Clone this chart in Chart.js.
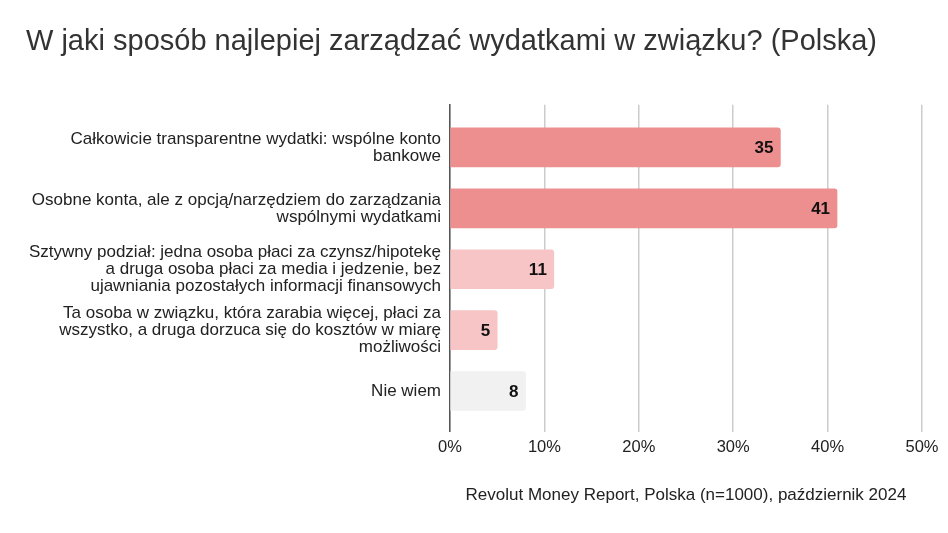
<!DOCTYPE html>
<html>
<head>
<meta charset="utf-8">
<script src="https://cdn.jsdelivr.net/npm/chart.js@4/dist/chart.umd.min.js"></script>
<style>
html,body{margin:0;padding:0;background:#fff;}
#wrap{width:948px;height:533px;}
</style>
</head>
<body>
<div id="wrap"><canvas id="c" width="948" height="533"></canvas></div>
<script>
const titleText = "W jaki sposób najlepiej zarządzać wydatkami w związku? (Polska)";
const footerText = "Revolut Money Report, Polska (n=1000), październik 2024";
const categories = [
  ["Całkowicie transparentne wydatki: wspólne konto", "bankowe"],
  ["Osobne konta, ale z opcją/narzędziem do zarządzania", "wspólnymi wydatkami"],
  ["Sztywny podział: jedna osoba płaci za czynsz/hipotekę", "a druga osoba płaci za media i jedzenie, bez", "ujawniania pozostałych informacji finansowych"],
  ["Ta osoba w związku, która zarabia więcej, płaci za", "wszystko, a druga dorzuca się do kosztów w miarę", "możliwości"],
  ["Nie wiem"]
];
const values = [35, 41, 11, 5, 8];
const barColors = ["#ee8f8f", "#ee8f8f", "#f7c5c5", "#f7c5c5", "#f1f1f1"];
const xTicks = [0, 10, 20, 30, 40, 50];

const FONT = "'Liberation Sans', Arial, Helvetica, sans-serif";

const valueLabels = {
  id: 'valueLabels',
  afterDatasetsDraw(chart) {
    const ctx = chart.ctx;
    const meta = chart.getDatasetMeta(0);
    ctx.save();
    ctx.font = "bold 17px " + FONT;
    ctx.fillStyle = "#111";
    ctx.textAlign = "right";
    ctx.textBaseline = "middle";
    meta.data.forEach((el, i) => {
      ctx.fillText(String(values[i]), el.x - 7, el.y + 1);
    });
    ctx.restore();
  }
};

new Chart(document.getElementById('c'), {
  type: 'bar',
  data: {
    datasets: [{
      data: values.map((v, i) => ({ x: v, y: i })),
      backgroundColor: barColors,
      borderColor: barColors,
      borderWidth: 0,
      borderRadius: 3,
      borderSkipped: 'start',
      barThickness: 39
    }]
  },
  options: {
    indexAxis: 'y',
    responsive: false,
    animation: false,
    devicePixelRatio: 1,
    layout: { padding: { left: 26, right: 26, top: 10, bottom: 0 } },
    plugins: {
      legend: { display: false },
      tooltip: { enabled: false },
      title: {
        display: true,
        text: titleText,
        align: 'start',
        color: '#333',
        font: { family: FONT, size: 29, weight: 'normal' },
        padding: { top: 15, bottom: 45 }
      },
      subtitle: {
        display: true,
        text: footerText,
        position: 'bottom',
        align: 'center',
        fullSize: false,
        color: '#222',
        font: { family: FONT, size: 17, weight: 'normal' },
        padding: { top: 22, bottom: 27 }
      }
    },
    scales: {
      x: {
        type: 'linear',
        position: 'bottom',
        min: 0,
        max: 50,
        bounds: 'data',
        afterBuildTicks: (scale) => { scale.ticks = xTicks.map(v => ({ value: v })); },
        afterFit: (scale) => { scale.paddingLeft = 0; scale.paddingRight = 0; },
        ticks: {
          callback: (v) => v + '%',
          color: '#222',
          font: { family: FONT, size: 16.5 },
          padding: 6,
          maxRotation: 0
        },
        grid: { color: '#cccccc', lineWidth: 1.5, drawTicks: false },
        border: { display: false }
      },
      y: {
        type: 'linear',
        reverse: true,
        offset: false,
        min: -0.7,
        max: 4.67,
        bounds: 'data',
        afterBuildTicks: (scale) => { scale.ticks = categories.map((_, i) => ({ value: i })); },
        afterFit: (scale) => { scale.width = 424; },
        ticks: {
          callback: (v) => categories[v],
          color: '#222',
          font: { family: FONT, size: 17, lineHeight: 1.0 },
          padding: 9,
          autoSkip: false
        },
        grid: { display: false, drawTicks: false, offset: false },
        border: { display: true, color: '#555', width: 1.5 }
      }
    }
  },
  plugins: [valueLabels]
});
</script>
</body>
</html>
